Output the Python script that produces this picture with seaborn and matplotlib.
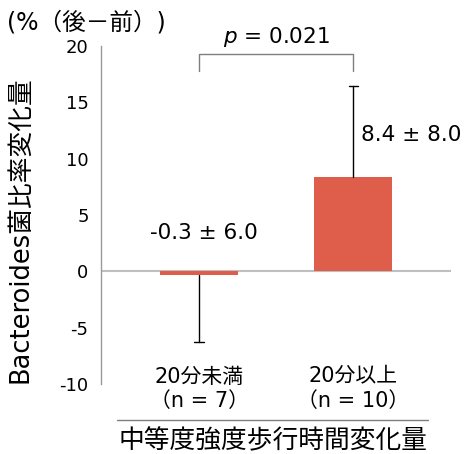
import matplotlib
matplotlib.use("Agg")
import matplotlib.pyplot as plt
import seaborn as sns
import pandas as pd
from matplotlib.lines import Line2D

# data
groups = ["20分未満\n（n = 7）", "20分以上\n（n = 10）"]
means = [-0.3, 8.4]
sds = [6.0, 8.0]
labels = ["-0.3 ± 6.0", "8.4 ± 8.0"]
p_text = "= 0.021"
yticks = [-10, -5, 0, 5, 10, 15, 20]

df = pd.DataFrame({"group": groups, "mean": means})

sns.set_style("white")
plt.rcParams["font.family"] = ["DejaVu Sans", "Noto Sans CJK JP"]
plt.rcParams["text.color"] = "black"
plt.rcParams["ytick.labelcolor"] = "black"

fig = plt.figure(figsize=(4.68, 4.54), dpi=100)
ax = fig.add_axes([0.216, 0.154, 0.748, 0.745])

bar_color = "#DE5E4B"
sns.barplot(data=df, x="group", y="mean", color=bar_color, width=0.51,
            saturation=1, linewidth=0, ax=ax, zorder=2)

# one-sided error bars (down for negative, up for positive), cap only at the end
for i, (m, s) in enumerate(zip(means, sds)):
    end = m - s if m < 0 else m + s
    ax.plot([i, i], [m, end], color="black", lw=1, zorder=3)
    ax.plot([i - 0.03, i + 0.03], [end, end], color="black", lw=1, zorder=3)

ax.axhline(0, color="#bfbfbf", lw=1.5, zorder=1)

ax.set_xlim(-0.636, 1.636)
ax.set_ylim(-10, 20)
ax.set_yticks(yticks)
ax.set_yticklabels([str(t) for t in yticks], fontsize=13)
ax.tick_params(axis="y", direction="out", length=5, width=1, color="#999999", pad=4)
ax.tick_params(axis="x", length=0)
ax.set_xticklabels([])
ax.set_xlabel("")
ax.set_ylabel("")

for s in ["top", "right", "bottom"]:
    ax.spines[s].set_visible(False)
ax.spines["left"].set_color("#999999")
ax.spines["left"].set_linewidth(1)

# value annotations
ax.text(0.03, 3.4, labels[0], ha="center", va="center", fontsize=15.5)
ax.text(1.05, 12.1, labels[1], ha="left", va="center", fontsize=15.5, clip_on=False)

# significance bracket
ax.plot([0, 0, 1, 1], [17.8, 19.3, 19.3, 17.8], color="#7f7f7f", lw=1,
        clip_on=False)
ax.text(0.5, 20.75, "$\\it{p}$ " + p_text, ha="center", va="center",
        fontsize=15.5, clip_on=False)

# category labels
for i, g in enumerate(groups):
    ax.text(i, -10.4, g, ha="center", va="center", fontsize=15,
            linespacing=1.25, clip_on=False)

# x-axis title with line above
fig.add_artist(Line2D([0.25, 0.915], [0.075, 0.075], color="#7f7f7f", lw=1))
fig.text(0.583, 0.029, "中等度強度歩行時間変化量", ha="center", va="center",
         fontsize=18.5)

# y-axis title and unit
fig.text(0.043, 0.495, "Bacteroides菌比率変化量", ha="center", va="center",
         rotation=90, fontsize=18.5)
fig.text(0.015, 0.95, "(%（後－前）)", ha="left", va="center", fontsize=17)

fig.savefig("out.png", dpi=100)
